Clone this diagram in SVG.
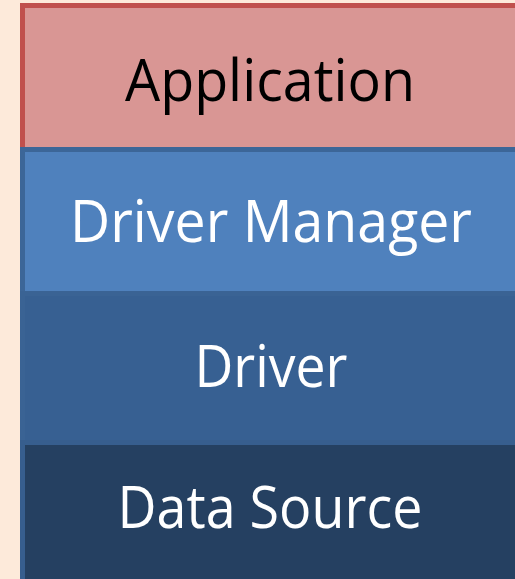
<svg xmlns="http://www.w3.org/2000/svg" width="515" height="579" viewBox="0 0 515 579">
<style>
.lbl{font-family:"Open Sans","Liberation Sans",sans-serif;font-size:58px;text-anchor:middle}
.dark{fill:#000000}
.light{fill:#FFFFFF}
.box{stroke-width:5}
</style>
<rect x="0" y="0" width="515" height="579" fill="#FDEADA"/>
<g id="application">
<rect class="box" x="22.5" y="5.5" width="520" height="150" fill="#D99694" stroke="#C0504D"/>
<text class="lbl dark" x="270" y="101" textLength="290" lengthAdjust="spacingAndGlyphs">Application</text>
</g>
<g id="driver-manager">
<rect class="box" x="22.5" y="149.5" width="520" height="150" fill="#4F81BD" stroke="#3C6698"/>
<text class="lbl light" x="271" y="242" textLength="402" lengthAdjust="spacingAndGlyphs">Driver Manager</text>
</g>
<g id="driver">
<rect class="box" x="22.5" y="293.5" width="520" height="155" fill="#376092" stroke="#3A6394"/>
<text class="lbl light" x="271" y="387" textLength="153" lengthAdjust="spacingAndGlyphs">Driver</text>
</g>
<g id="data-source">
<rect class="box" x="22.5" y="442.5" width="520" height="160" fill="#254061" stroke="#375E8E"/>
<text class="lbl light" x="270" y="528" textLength="305" lengthAdjust="spacingAndGlyphs">Data Source</text>
</g>
<g id="connectors"></g>
</svg>
